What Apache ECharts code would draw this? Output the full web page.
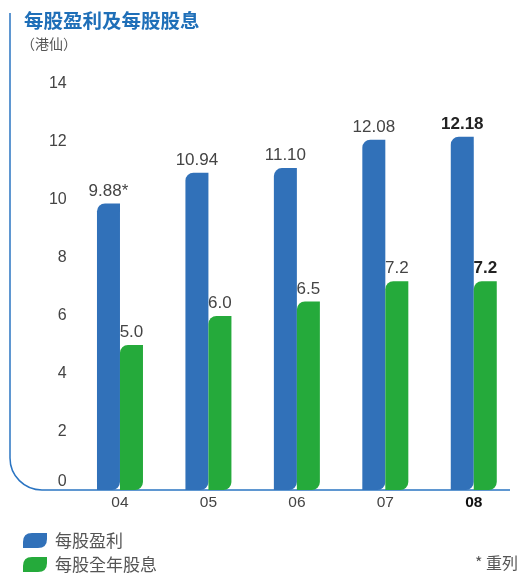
<!DOCTYPE html>
<html><head><meta charset="utf-8">
<script src="https://cdn.jsdelivr.net/npm/echarts@6/dist/echarts.min.js"></script>
<style>html,body{margin:0;padding:0;background:#fff}#c{width:521px;height:573px}</style>
</head><body><div id="c"></div>
<script>
const categories = ['04','05','06','07','08'];
const eps = [9.88, 10.94, 11.10, 12.08, 12.18];
const epsNotes = ['*', '', '', '', ''];
const dps = [5.0, 6.0, 6.5, 7.2, 7.2];
const yTicks = [0, 2, 4, 6, 8, 10, 12, 14];
const seriesNames = ['每股盈利', '每股全年股息'];
const highlightIndex = 4;

const BLUE = '#3171b9', GREEN = '#25aa3b', LINE = '#2a74c2';
const NUM_FONT = 'Liberation Sans, Arial, sans-serif';
const CJK_FONT = '"Noto Sans CJK TC", "Noto Sans CJK SC", sans-serif';

function mkData(vals, dec, notes) {
  return vals.map((v, i) => ({
    value: v,
    label: {
      formatter: v.toFixed(dec) + (notes ? notes[i] : ''),
      fontWeight: i === highlightIndex ? 'bold' : 'normal',
      color: i === highlightIndex ? '#222' : '#444'
    }
  }));
}

const chart = echarts.init(document.getElementById('c'), null, {renderer: 'canvas'});
const leaf = 'path://M9,0 L24,0 L24,6 Q24,15 15,15 L0,15 L0,9 Q0,0 9,0 Z';
const labelStyle = {show: true, position: 'top', distance: 4, fontSize: 17, fontFamily: NUM_FONT};
const R = 32;
chart.setOption({
  animation: false,
  grid: {left: 75.75, right: 3, top: 84, bottom: 83},
  xAxis: {
    type: 'category', data: categories,
    axisLine: {show: false}, axisTick: {show: false},
    axisLabel: {
      margin: 5, fontSize: 15.5, fontFamily: NUM_FONT, color: '#444',
      formatter: (v, i) => i === highlightIndex ? '{b|' + v + '}' : v,
      rich: {b: {fontWeight: 'bold', color: '#111', fontSize: 15.5, fontFamily: NUM_FONT}}
    }
  },
  yAxis: {
    type: 'value', min: yTicks[0], max: yTicks[yTicks.length - 1], interval: 2,
    splitLine: {show: false}, axisLine: {show: false}, axisTick: {show: false},
    axisLabel: {
      margin: 9, fontSize: 16, fontFamily: NUM_FONT, color: '#444',
      formatter: v => v === 0 ? '{z|0}' : String(v),
      rich: {z: {padding: [0, 0, 16, 0], fontSize: 16, fontFamily: NUM_FONT, color: '#444'}}
    }
  },
  legend: {
    orient: 'vertical', left: 23, top: 532, padding: 0, itemGap: 7,
    itemWidth: 24, itemHeight: 15,
    textStyle: {fontSize: 17, color: '#555', fontFamily: CJK_FONT, padding: [0, 0, 0, 3]},
    data: [{name: seriesNames[0], icon: leaf}, {name: seriesNames[1], icon: leaf}]
  },
  series: [
    {name: seriesNames[0], type: 'bar', barWidth: 23, barGap: '0%',
     itemStyle: {color: BLUE, borderRadius: [8, 0, 8, 0]},
     label: labelStyle, data: mkData(eps, 2, epsNotes)},
    {name: seriesNames[1], type: 'bar', barWidth: 23, barGap: '0%',
     itemStyle: {color: GREEN, borderRadius: [8, 0, 8, 0]},
     label: labelStyle, data: mkData(dps, 1, null)}
  ],
  graphic: [
    {type: 'line', silent: true, shape: {x1: 10, y1: 13, x2: 10, y2: 490 - R},
     style: {stroke: LINE, lineWidth: 1.5}},
    {type: 'arc', silent: true,
     shape: {cx: 10 + R, cy: 490 - R, r: R, startAngle: Math.PI / 2, endAngle: Math.PI, clockwise: true},
     style: {stroke: LINE, lineWidth: 1.5, fill: 'none'}},
    {type: 'line', silent: true, shape: {x1: 10 + R, y1: 490, x2: 510, y2: 490},
     style: {stroke: LINE, lineWidth: 1.5}},
    {type: 'text', left: 24, top: 11,
     style: {text: '每股盈利及每股股息', fontSize: 19.5, fontWeight: 'bold', fill: '#1f6fb8', fontFamily: CJK_FONT}},
    {type: 'text', left: 21, top: 37,
     style: {text: '（港仙）', fontSize: 14, fill: '#555', fontFamily: CJK_FONT}},
    {type: 'text', right: 3, top: 555,
     style: {text: '* 重列', fontSize: 16, fill: '#555', fontFamily: CJK_FONT}}
  ]
});
</script></body></html>
